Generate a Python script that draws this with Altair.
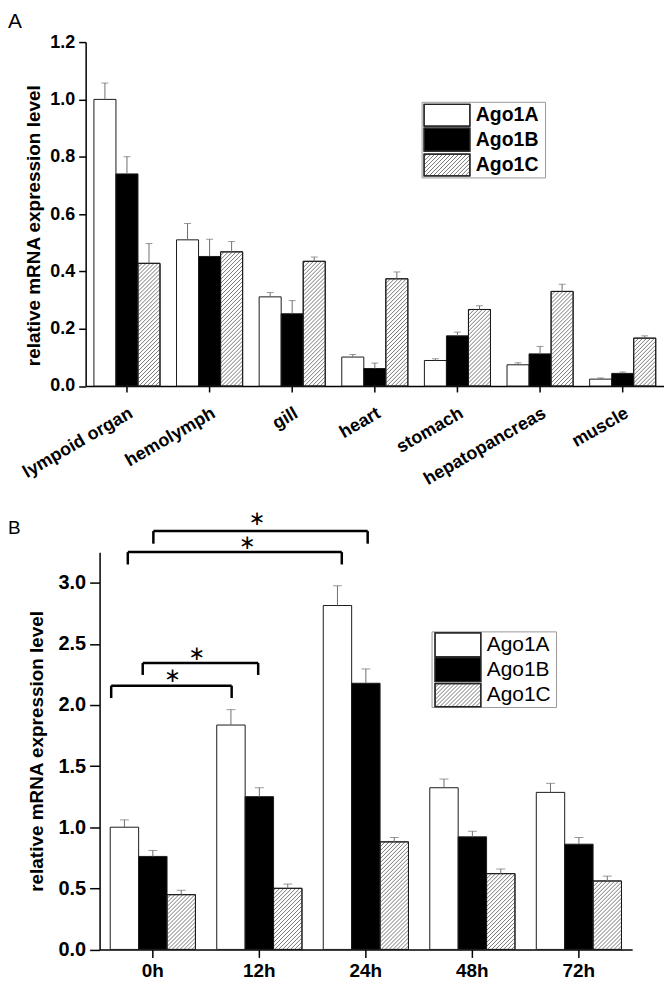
import math
import altair as alt
import pandas as pd

SERIES = ["Ago1A", "Ago1B", "Ago1C"]
FILLS = ["white", "black", "white"]

# ---------------- Panel A data ----------------
tissues = ["lympoid organ", "hemolymph", "gill", "heart", "stomach", "hepatopancreas", "muscle"]
a_ago1a = [1.0, 0.51, 0.311, 0.101, 0.089, 0.074, 0.024]
a_ago1b = [0.74, 0.452, 0.252, 0.061, 0.175, 0.112, 0.044]
a_ago1c = [0.428, 0.468, 0.435, 0.374, 0.267, 0.330, 0.167]
a_sd_ago1a = [0.057, 0.057, 0.015, 0.009, 0.006, 0.007, 0.004]
a_sd_ago1b = [0.060, 0.060, 0.046, 0.019, 0.013, 0.026, 0.005]
a_sd_ago1c = [0.069, 0.036, 0.015, 0.024, 0.013, 0.025, 0.008]
a_ticks = [0.0, 0.2, 0.4, 0.6, 0.8, 1.0, 1.2]

# ---------------- Panel B data ----------------
times = ["0h", "12h", "24h", "48h", "72h"]
b_ago1a = [1.0, 1.836, 2.814, 1.323, 1.285]
b_ago1b = [0.761, 1.25, 2.178, 0.921, 0.861]
b_ago1c = [0.448, 0.50, 0.880, 0.620, 0.560]
b_sd_ago1a = [0.060, 0.126, 0.161, 0.071, 0.074]
b_sd_ago1b = [0.049, 0.073, 0.117, 0.046, 0.055]
b_sd_ago1c = [0.036, 0.035, 0.036, 0.038, 0.040]
b_ticks = [0.0, 0.5, 1.0, 1.5, 2.0, 2.5, 3.0]

# significance brackets (x in category-step units, y in expression units)
br_left = [0.109, 0.405, 0.265, 0.505]
br_right = [1.240, 1.489, 2.274, 2.517]
br_top = [2.158, 2.344, 3.251, 3.423]
br_leg = [2.057, 2.246, 3.150, 3.320]
star_x = [0.685, 0.913, 1.386, 1.479]
star_y = [2.240, 2.418, 3.328, 3.525]

PAD_IN, PAD_OUT = 0.2, 0.1
FONT = "Liberation Sans"
NOVIEW = alt.ViewBackground(stroke="transparent", strokeWidth=0, fill="transparent")


def bar_table(cats, values, sds):
    rows = []
    for s, vals, errs in zip(SERIES, values, sds):
        for c, v, e in zip(cats, vals, errs):
            rows.append({"cat": c, "series": s, "value": v, "top": v + e})
    return pd.DataFrame(rows)


def hatch_lines(w, h, spacing):
    """diagonal '/' segments inside a w x h pixel box (y measured upward)."""
    segs = []
    k0 = math.ceil(-h / spacing)
    k1 = math.floor(w / spacing)
    for k in range(k0, k1 + 1):
        c = k * spacing + 1.0
        xs = max(0.0, c)
        xe = min(w, h + c)
        if xe - xs < 0.6:
            continue
        segs.append((xs, xe, xs - c, xe - c))
    return segs


def panel(cats, values, sds, ymax, yticks, W, H, xo, yo, st):
    """W, H: plot-area size; the data region starts xo px from the left and yo px from the top."""
    n = len(cats)
    df = bar_table(cats, values, sds)
    step_px = (W - xo) / n
    px_unit = (H - yo) / ymax
    band = 1 - PAD_IN
    sub = band / len(SERIES)

    xscale = alt.Scale(paddingInner=PAD_IN, paddingOuter=PAD_OUT, range=[xo, W])
    offscale = alt.Scale(domain=SERIES, paddingInner=0, paddingOuter=0)
    yscale = alt.Scale(domain=[0, ymax], range=[H, yo], nice=False, zero=False)
    qx = alt.Scale(domain=[0, n], range=[xo, W], nice=False, zero=False)
    xoff = alt.XOffset("series:N", sort=SERIES, scale=offscale)

    xaxis = alt.Axis(
        title=None, labelFont=FONT, labelFontSize=st["xlab"], labelFontWeight="bold",
        labelColor="black", labelAngle=st["angle"], labelPadding=st["xpad"],
        tickSize=st["xtick"], tickColor="black", tickWidth=1.5,
        domainColor="black", domainWidth=1.5, labelOverlap=False,
        **({"labelAlign": "right", "labelBaseline": "top"} if st["angle"] else {}),
    )
    extra = {}
    if st.get("titleY"):
        extra["titleY"] = st["titleY"]
    if xo:
        extra["offset"] = -xo
    yaxis = alt.Axis(
        values=yticks, format=".1f", grid=False,
        title="relative mRNA expression level", titleFont=FONT,
        titleFontSize=st["title"], titleFontWeight="bold", titleColor="black",
        titlePadding=st["tpad"], labelFont=FONT, labelFontSize=st["ylab"],
        labelFontWeight="bold", labelColor="black", labelPadding=4,
        tickSize=st["ytick"], tickColor="black", tickWidth=1.5,
        domainColor="black", domainWidth=1.5, **extra,
    )

    bars = alt.Chart(df).mark_bar(stroke="#1a1a1a", strokeWidth=1).encode(
        x=alt.X("cat:N", sort=cats, scale=xscale, axis=xaxis),
        xOffset=xoff,
        y=alt.Y("value:Q", scale=yscale, axis=yaxis),
        fill=alt.Fill("series:N", scale=alt.Scale(domain=SERIES, range=FILLS), legend=None),
    )

    # hatching of Ago1C bars
    hrows = []
    x_c = PAD_OUT + 2 * sub
    for i, v in enumerate(values[2]):
        for xs, xe, ys, ye in hatch_lines(sub * step_px, v * px_unit, 4.0):
            hrows.append({
                "x": i + x_c + xs / step_px, "x2": i + x_c + xe / step_px,
                "y": ys / px_unit, "y2": ye / px_unit,
            })
    hatch = alt.Chart(pd.DataFrame(hrows)).mark_rule(color="#555", strokeWidth=0.8).encode(
        x=alt.X("x:Q", scale=qx, axis=None), x2="x2:Q",
        y=alt.Y("y:Q", scale=yscale, axis=None), y2="y2:Q",
    )
    outline = alt.Chart(df).transform_filter(alt.datum.series == "Ago1C").mark_bar(
        fill=None, stroke="#1a1a1a", strokeWidth=1
    ).encode(
        x=alt.X("cat:N", sort=cats, scale=xscale, axis=None), xOffset=xoff,
        y=alt.Y("value:Q", scale=yscale, axis=None),
    )

    err = alt.Chart(df).mark_rule(color="#6e6e6e", strokeWidth=1).encode(
        x=alt.X("cat:N", sort=cats, scale=xscale, axis=None), xOffset=xoff,
        y=alt.Y("value:Q", scale=yscale, axis=None), y2="top:Q",
    )
    caps = alt.Chart(df).mark_tick(color="#6e6e6e", thickness=1, size=st["cap"]).encode(
        x=alt.X("cat:N", sort=cats, scale=xscale, axis=None), xOffset=xoff,
        y=alt.Y("top:Q", scale=yscale, axis=None),
    )

    # legend (pixel positions inside the plot area)
    lg = st["legend"]
    box = alt.Chart(pd.DataFrame({"a": [0]})).mark_rect(
        fill="white", stroke="#999", strokeWidth=1
    ).encode(x=alt.value(lg["box"][0]), x2=alt.value(lg["box"][1]),
             y=alt.value(lg["box"][2]), y2=alt.value(lg["box"][3]))
    lrows = []
    for s, (r0, r1), ty in zip(SERIES, lg["rows"], lg["ty"]):
        lrows.append({"series": s, "x0": lg["sx"][0], "x1": lg["sx"][1], "y0": r0, "y1": r1,
                      "tx": lg["tx"], "ty": ty})
    ldf = pd.DataFrame(lrows)
    sw = alt.Chart(ldf).mark_rect(stroke="#222", strokeWidth=1.2).encode(
        x=alt.X("x0:Q", scale=None), x2="x1:Q", y=alt.Y("y0:Q", scale=None), y2="y1:Q",
        fill=alt.Fill("series:N", scale=alt.Scale(domain=SERIES, range=FILLS), legend=None),
    )
    r0, r1 = lg["rows"][2]
    sx0, sx1 = lg["sx"]
    shr = [{"x": sx0 + xs, "x2": sx0 + xe, "y": r1 - ys, "y2": r1 - ye}
           for xs, xe, ys, ye in hatch_lines(sx1 - sx0, r1 - r0, 4.0)]
    shatch = alt.Chart(pd.DataFrame(shr)).mark_rule(color="#555", strokeWidth=0.8).encode(
        x=alt.X("x:Q", scale=None), x2="x2:Q", y=alt.Y("y:Q", scale=None), y2="y2:Q",
    )
    sw_out = alt.Chart(ldf).mark_rect(fill=None, stroke="#222", strokeWidth=1.2).encode(
        x=alt.X("x0:Q", scale=None), x2="x1:Q", y=alt.Y("y0:Q", scale=None), y2="y1:Q",
    )
    ltxt = alt.Chart(ldf).mark_text(
        align="left", baseline="middle", font=FONT, fontSize=lg["fs"],
        fontWeight=lg["fw"], color="black",
    ).encode(x=alt.X("tx:Q", scale=None), y=alt.Y("ty:Q", scale=None), text="series:N")

    plab = alt.Chart(pd.DataFrame({"a": [0]})).mark_text(
        align="left", baseline="top", font=FONT, fontSize=st["pfs"], color="black"
    ).encode(x=alt.value(st["plabel"][1]), y=alt.value(st["plabel"][2]),
             text=alt.value(st["plabel"][0]))

    layers = [bars, hatch, outline, err, caps, box, sw, shatch, sw_out, ltxt, plab]
    return layers, qx, yscale


# ---------------- Panel A ----------------
stA = dict(xlab=18, angle=-30, xpad=12, xtick=6, ylab=18, ytick=7, title=19, tpad=6,
           titleY=184, cap=7, pfs=21, plabel=("A", -78, -31.5),
           legend=dict(box=(338, 462, 60.5, 136.5), sx=(340, 386),
                       rows=[(62.5, 84.5), (86.5, 109.5), (112.5, 134.5)],
                       tx=392, ty=[73.5, 98, 123.5], fs=19.5, fw="bold"))
layersA, _, _ = panel(tissues, [a_ago1a, a_ago1b, a_ago1c],
                      [a_sd_ago1a, a_sd_ago1b, a_sd_ago1c], 1.2, a_ticks,
                      581, 345.5, 0, 0, stA)
chartA = alt.layer(*layersA).resolve_scale(
    x="independent", y="independent", xOffset="independent"
).properties(width=581, height=345.5, view=NOVIEW)

# ---------------- Panel B ----------------
# plot area starts at the same x as panel A; the data region is inset 14 px / 12.5 px
XO_B, YO_B = 14, 12.5
stB = dict(xlab=19, angle=0, xpad=4, xtick=8, ylab=20, ytick=10, title=19, tpad=12,
           cap=9, pfs=19, plabel=("B", -78, -20.5),
           legend=dict(box=(348, 473, 92.5, 168.5), sx=(351, 397),
                       rows=[(93.5, 117.5), (118.5, 142.5), (144.5, 167.5)],
                       tx=403, ty=[105.5, 130.5, 156], fs=21, fw="normal"))
layersB, qxB, yscB = panel(times, [b_ago1a, b_ago1b, b_ago1c],
                           [b_sd_ago1a, b_sd_ago1b, b_sd_ago1c], 3.25, b_ticks,
                           535 + XO_B, 399 + YO_B, XO_B, YO_B, stB)

brows = []
for l, r, t, g in zip(br_left, br_right, br_top, br_leg):
    brows.append({"x": l, "x2": r, "y": t, "y2": t})
    brows.append({"x": l, "x2": l, "y": g, "y2": t})
    brows.append({"x": r, "x2": r, "y": g, "y2": t})
brackets = alt.Chart(pd.DataFrame(brows)).mark_rule(color="black", strokeWidth=2.5).encode(
    x=alt.X("x:Q", scale=qxB, axis=None), x2="x2:Q",
    y=alt.Y("y:Q", scale=yscB, axis=None), y2="y2:Q",
)
stars = alt.Chart(pd.DataFrame({"x": star_x, "y": star_y, "t": ["\u2217"] * 4})).mark_text(
    font="DejaVu Sans", fontSize=20, baseline="middle", align="center", color="black"
).encode(x=alt.X("x:Q", scale=qxB, axis=None), y=alt.Y("y:Q", scale=yscB, axis=None), text="t:N")

chartB = alt.layer(*layersB, brackets, stars).resolve_scale(
    x="independent", y="independent", xOffset="independent"
).properties(width=535 + XO_B, height=399 + YO_B, view=NOVIEW)

chart = alt.concat(chartA, chartB, columns=1, spacing=19, align="none").properties(
    padding={"left": 0, "top": 0, "right": 0, "bottom": 0}
).configure_view(stroke="transparent", strokeWidth=0).configure(font=FONT)

chart.save("out.html", embed_options={"renderer": "svg", "actions": False})
